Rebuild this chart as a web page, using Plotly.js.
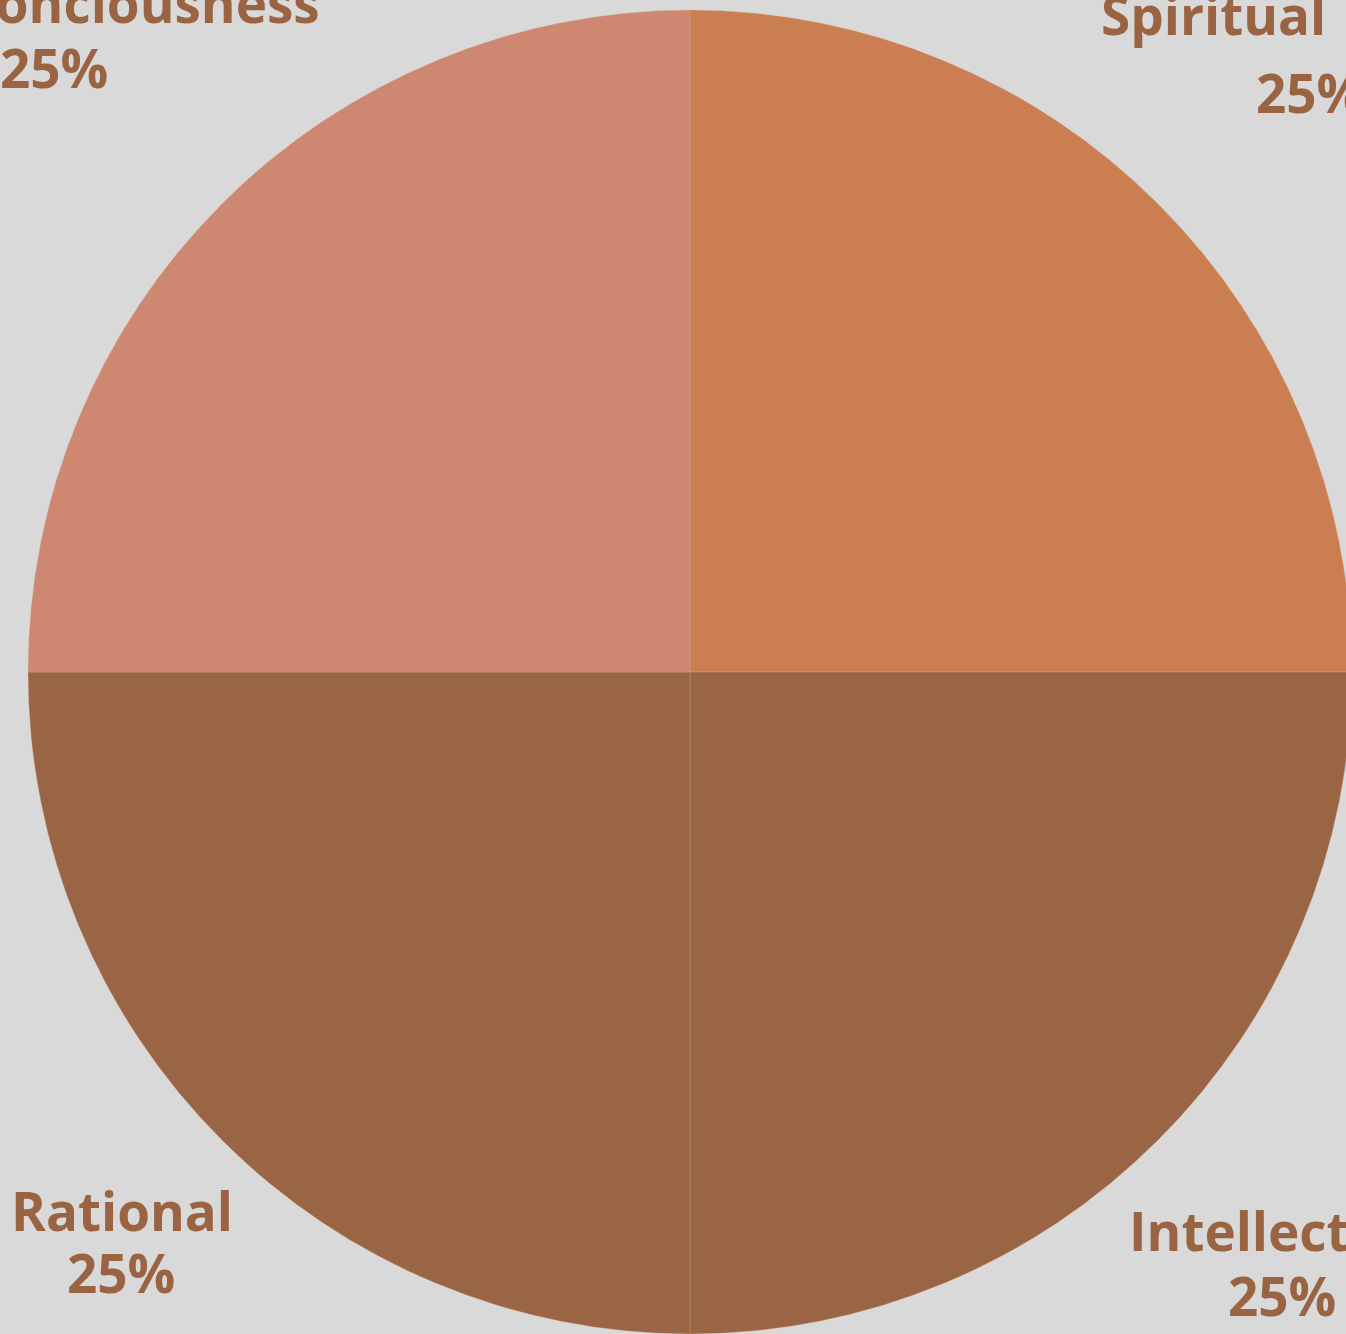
<!DOCTYPE html>
<html>
<head>
<meta charset="utf-8">
<script src="https://cdn.plot.ly/plotly-3.0.1.min.js"></script>
<style>
html,body{margin:0;padding:0;overflow:hidden;background:#d9d9d9;width:1346px;height:1334px;}
#chart{width:1400px;height:1334px;}
</style>
</head>
<body>
<div id="chart"></div>
<script>
// Data
const categories = ["Spiritual", "Intellect", "Rational", "Conciousness"];
const values = [25, 25, 25, 25];
const sliceColors = ["#cc7e53", "#996544", "#996544", "#ce8771"];

const W = 1400, H = 1334;
const textColor = "#9a6442";
const fontFamily = "'Open Sans', 'DejaVu Sans', sans-serif";
const fontSize = 53;

// label placement (pixel positions of name / percentage text baselines)
const labelPlacement = {
  "Spiritual":    {nx: 1099, nAnchor: "left",  nBase: 35,   px: 1310, pBase: 112},
  "Intellect":    {nx: 1127, nAnchor: "left",  nBase: 1250, px: 1282, pBase: 1315},
  "Rational":     {nx: 9,    nAnchor: "left",  nBase: 1230, px: 121,  pBase: 1292},
  "Conciousness": {nx: 322,  nAnchor: "right", nBase: 23,   px: 54,   pBase: 87}
};

const total = values.reduce((a, b) => a + b, 0);
const baseOffset = 20;
const annotations = [];
categories.forEach((c, i) => {
  const p = labelPlacement[c];
  const pct = Math.round(values[i] / total * 100) + "%";
  annotations.push({
    text: c, xref: "paper", yref: "paper", showarrow: false,
    x: p.nx / W, y: 1 - (p.nBase - baseOffset) / H,
    xanchor: p.nAnchor, yanchor: "middle",
    font: {family: fontFamily, size: fontSize, color: textColor, weight: "bold"}
  });
  annotations.push({
    text: pct, xref: "paper", yref: "paper", showarrow: false,
    x: p.px / W, y: 1 - (p.pBase - baseOffset) / H,
    xanchor: "center", yanchor: "middle",
    font: {family: fontFamily, size: fontSize, color: textColor, weight: "bold"}
  });
});

const trace = {
  type: "pie",
  labels: categories,
  values: values,
  sort: false,
  direction: "clockwise",
  rotation: 0,
  textinfo: "none",
  hoverinfo: "label+percent",
  marker: {colors: sliceColors, line: {width: 0.6, color: "rgba(217,180,150,0.5)"}},
  domain: {x: [28 / W, 1352 / W], y: [0, 1 - 10 / H]},
  showlegend: false
};

const layout = {
  width: W, height: H,
  margin: {l: 0, r: 0, t: 0, b: 0, pad: 0},
  paper_bgcolor: "#d9d9d9",
  plot_bgcolor: "#d9d9d9",
  showlegend: false,
  annotations: annotations
};

Plotly.newPlot("chart", [trace], layout, {displayModeBar: false, staticPlot: true});
</script>
</body>
</html>
